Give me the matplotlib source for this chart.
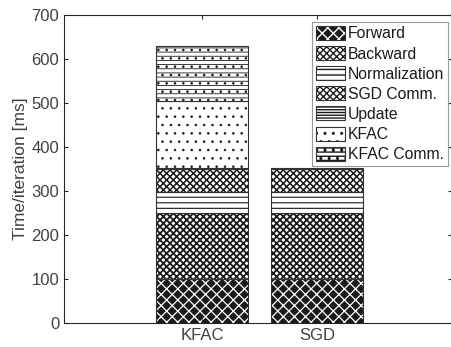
import numpy as np
import matplotlib.pyplot as plt
from matplotlib.patches import Patch

plt.rcParams['font.family'] = ['Liberation Sans', 'DejaVu Sans']
plt.rcParams['hatch.linewidth'] = 1.0

# bar data [ms], stacked bottom to top
categories = ['KFAC', 'SGD']
forward = [100, 100]
backward = [150, 150]
normalization = [47, 47]
sgd_comm = [52, 52]
update = [3, 3]
kfac = [153, 0]
kfac_comm = [125, 0]

labels = ['Forward', 'Backward', 'Normalization', 'SGD Comm.', 'Update', 'KFAC', 'KFAC Comm.']
series = [forward, backward, normalization, sgd_comm, update, kfac, kfac_comm]
# (face, hatch colour, hatch, hatch linewidth) per series
styles = [('#1a1a1a', 'white', 'xxx', 0.9),
          ('white', '#1a1a1a', 'xxxxx', 1.3),
          ('white', '#1a1a1a', '---', 0.8),
          ('white', '#1a1a1a', 'xxxxx', 1.1),
          ('white', '#1a1a1a', '------', 0.8),
          ('white', '#1a1a1a', '..', 0.6),
          ('white', '#1a1a1a', '----..', 0.6)]

txt = '#404040'
fig = plt.figure(figsize=(4.52, 3.47), dpi=100)
ax = fig.add_axes([64/452, 1 - 323/347, 388/452, 308/347])

x = np.arange(1, len(categories) + 1)
width = 0.8
bottom = np.zeros(len(categories))
handles = []
for vals, lab, (fc, hc, h, hlw) in zip(series, labels, styles):
    vals = np.array(vals, dtype=float)
    with plt.rc_context({'hatch.linewidth': hlw}):
        ax.bar(x, vals, width, bottom=bottom, color=fc, edgecolor=hc,
               hatch=h, linewidth=0)
        hp = Patch(facecolor=fc, edgecolor=hc, hatch=h, linewidth=0)
    ax.bar(x[vals > 0], vals[vals > 0], width, bottom=bottom[vals > 0],
           fill=False, edgecolor='#333333', linewidth=0.8)
    bottom += vals
    handles.append((hp, Patch(fill=False, edgecolor='#333333', linewidth=0.8)))

ax.set_xlim(-0.2, 3.17)
ax.set_ylim(0, 700)
ax.set_xticks(x)
ax.set_xticklabels(categories)
ax.set_yticks(np.arange(0, 701, 100))
ax.set_ylabel('Time/iteration [ms]', fontsize=12.5, color=txt, labelpad=2)
ax.tick_params(direction='in', length=3, width=0.8, colors='#262626',
               labelcolor=txt, labelsize=12, top=True, right=True)
for s in ax.spines.values():
    s.set_color('#262626')
    s.set_linewidth(0.8)

leg = ax.legend(handles, labels, loc='upper right', bbox_to_anchor=(0.99, 0.977),
                borderaxespad=0, fancybox=False, edgecolor='#999999',
                fontsize=11.3, labelspacing=0.3, handlelength=1.9,
                handleheight=1.0, handletextpad=0.15, borderpad=0.25,
                framealpha=1)
leg.get_frame().set_linewidth(0.8)
for t in leg.get_texts():
    t.set_color('#1a1a1a')

fig.savefig('out.png', dpi=100)
